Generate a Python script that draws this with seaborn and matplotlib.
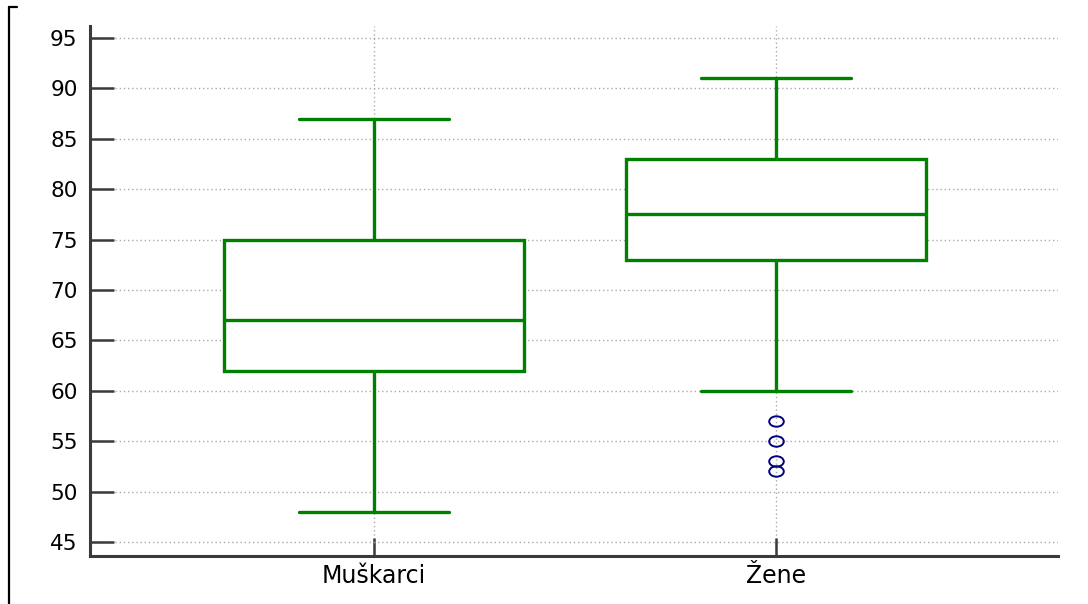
import matplotlib
matplotlib.use("Agg")
import matplotlib.pyplot as plt
from matplotlib.lines import Line2D
from matplotlib.path import Path
from matplotlib.transforms import Affine2D
import seaborn as sns
import pandas as pd

# Estimated samples reproducing the box statistics
categories = ["Muškarci", "Žene"]
muskarci = [48, 62, 67, 75, 87]
zene = [52, 53, 55, 57, 60, 73, 74, 75, 76, 77, 77.5,
        78, 80, 81, 82, 83, 85, 87, 88, 90, 91]
yticks = [45, 50, 55, 60, 65, 70, 75, 80, 85, 90, 95]

df = pd.DataFrame({
    "group": [categories[0]] * len(muskarci) + [categories[1]] * len(zene),
    "value": muskarci + zene,
})

sns.set_theme(style="white")
plt.rcParams["font.family"] = ["DejaVu Sans"]

fig = plt.figure(figsize=(10.88, 6.04), dpi=100)
ax = fig.add_axes([90 / 1088, 1 - 556 / 604, (1058 - 90) / 1088, (556 - 26) / 604])

# slightly wide open circle, as in the reference
ellipse = Path.unit_circle().transformed(Affine2D().scale(1.4, 1.0))

sns.boxplot(
    data=df, x="group", y="value", order=categories, ax=ax,
    color="white", linecolor="green", linewidth=2.4, width=0.746,
    whis=1.5, saturation=1,
    flierprops=dict(marker=ellipse, markersize=10.5, markerfacecolor="none",
                    markeredgecolor="#000080", markeredgewidth=1.4),
)

ax.set_xlim(-0.706, 1.70)
ax.set_ylim(43.6, 96.2)
ax.set_yticks(yticks)
ax.set_xlabel("")
ax.set_ylabel("")

ax.grid(True, linestyle=(0, (1, 2)), color="#aaaaaa", linewidth=1)
ax.set_axisbelow(True)

for s in ["top", "right"]:
    ax.spines[s].set_visible(False)
for s in ["left", "bottom"]:
    ax.spines[s].set_color("#3a3a3a")
    ax.spines[s].set_linewidth(2.2)

ax.tick_params(axis="y", left=True, direction="in", length=17, width=1.8,
               color="#3a3a3a", labelsize=15.5, pad=9, labelcolor="black")
ax.tick_params(axis="x", bottom=True, direction="in", length=13, width=1.8,
               color="#3a3a3a", labelsize=17, pad=6, labelcolor="black")

# thin frame bracket at the left edge
fig.add_artist(Line2D([9 / 1088, 9 / 1088], [1 - 7 / 604, 0], color="black",
                      linewidth=1.6, transform=fig.transFigure))
fig.add_artist(Line2D([9 / 1088, 17 / 1088], [1 - 7 / 604, 1 - 7 / 604], color="black",
                      linewidth=1.6, transform=fig.transFigure))

fig.savefig("out.png", dpi=100, facecolor="white")
